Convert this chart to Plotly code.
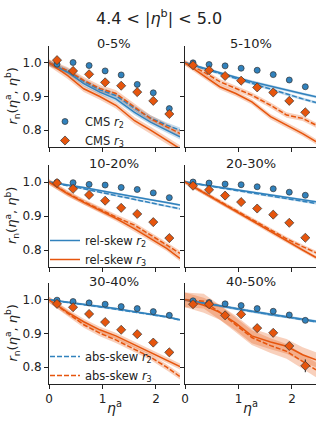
import plotly.graph_objects as go

# ---------------- data ----------------
centralities = ["0-5%", "5-10%", "10-20%", "20-30%", "30-40%", "40-50%"]
eta_cms = [0.15, 0.45, 0.75, 1.05, 1.35, 1.65, 1.95, 2.25]
eta_model = [0.0, 0.35, 0.65, 0.95, 1.25, 1.6, 1.9, 2.2, 2.45]

cms_r2 = [
    [0.996, 1.001, 0.992, 0.976, 0.964, 0.936, 0.911, 0.864],
    [1.000, 0.995, 0.991, 0.984, 0.978, 0.965, 0.949, 0.929],
    [0.999, 0.998, 0.993, 0.991, 0.984, 0.978, 0.968, 0.954],
    [1.000, 0.997, 0.994, 0.992, 0.986, 0.980, 0.970, 0.961],
    [0.999, 0.995, 0.991, 0.987, 0.980, 0.974, 0.965, 0.954],
    [0.997, 0.992, 0.988, 0.983, 0.974, 0.966, 0.955, 0.939],
]
cms_r2_err = [
    [0.003, 0.002, 0.002, 0.002, 0.003, 0.003, 0.004, 0.008],
    [0.002, 0.002, 0.002, 0.002, 0.002, 0.003, 0.003, 0.004],
    [0.002, 0.002, 0.002, 0.002, 0.002, 0.002, 0.003, 0.003],
    [0.002, 0.002, 0.002, 0.002, 0.002, 0.002, 0.003, 0.003],
    [0.002, 0.002, 0.002, 0.002, 0.002, 0.002, 0.003, 0.003],
    [0.002, 0.002, 0.002, 0.002, 0.002, 0.003, 0.003, 0.004],
]
cms_r3 = [
    [1.008, 0.976, 0.966, 0.942, 0.932, 0.913, 0.887, 0.848],
    [0.993, 0.978, 0.961, 0.947, 0.927, 0.912, 0.887, 0.853],
    [0.997, 0.980, 0.962, 0.945, 0.924, 0.906, 0.882, 0.835],
    [0.989, 0.977, 0.960, 0.941, 0.922, 0.904, 0.880, 0.836],
    [0.988, 0.978, 0.958, 0.934, 0.911, 0.898, 0.873, 0.844],
    [0.987, 0.987, 0.954, 0.957, 0.916, 0.902, 0.863, 0.804],
]
cms_r3_err = [
    [0.004, 0.003, 0.003, 0.003, 0.003, 0.004, 0.005, 0.007],
    [0.003, 0.003, 0.003, 0.003, 0.003, 0.004, 0.005, 0.006],
    [0.003, 0.003, 0.003, 0.003, 0.003, 0.003, 0.004, 0.005],
    [0.003, 0.003, 0.003, 0.003, 0.003, 0.003, 0.004, 0.005],
    [0.003, 0.003, 0.003, 0.003, 0.003, 0.004, 0.005, 0.006],
    [0.004, 0.004, 0.004, 0.004, 0.005, 0.006, 0.010, 0.019],
]

rel_r2 = [
    [1.0, 0.972, 0.938, 0.913, 0.893, 0.853, 0.824, 0.800, 0.780],
    [1.0, 0.985, 0.970, 0.957, 0.944, 0.930, 0.918, 0.908, 0.899],
    [1.0, 0.992, 0.984, 0.975, 0.966, 0.956, 0.948, 0.940, 0.932],
    [1.0, 0.992, 0.985, 0.978, 0.971, 0.963, 0.956, 0.949, 0.942],
    [1.0, 0.993, 0.987, 0.980, 0.974, 0.965, 0.958, 0.950, 0.941],
    [1.0, 0.990, 0.982, 0.974, 0.966, 0.957, 0.950, 0.943, 0.936],
]
abs_r2 = [
    [1.0, 0.976, 0.945, 0.920, 0.903, 0.865, 0.836, 0.815, 0.800],
    [1.0, 0.983, 0.967, 0.953, 0.939, 0.922, 0.906, 0.893, 0.882],
    [1.0, 0.990, 0.980, 0.970, 0.960, 0.948, 0.938, 0.929, 0.921],
    [1.0, 0.991, 0.983, 0.975, 0.967, 0.958, 0.951, 0.944, 0.937],
    [1.0, 0.993, 0.986, 0.979, 0.972, 0.964, 0.957, 0.949, 0.940],
    [1.0, 0.990, 0.981, 0.973, 0.965, 0.956, 0.949, 0.942, 0.935],
]
rel_r3 = [
    [1.0, 0.962, 0.923, 0.900, 0.874, 0.828, 0.800, 0.770, 0.745],
    [1.0, 0.963, 0.929, 0.909, 0.884, 0.840, 0.815, 0.790, 0.766],
    [1.0, 0.965, 0.940, 0.917, 0.893, 0.862, 0.834, 0.805, 0.775],
    [1.0, 0.968, 0.940, 0.913, 0.886, 0.854, 0.826, 0.800, 0.778],
    [1.0, 0.963, 0.935, 0.911, 0.893, 0.867, 0.845, 0.822, 0.802],
    [1.0, 0.984, 0.963, 0.931, 0.893, 0.875, 0.862, 0.837, 0.822],
]
abs_r3 = [
    [1.0, 0.977, 0.948, 0.924, 0.909, 0.868, 0.834, 0.810, 0.790],
    [1.0, 0.973, 0.944, 0.924, 0.904, 0.874, 0.845, 0.835, 0.815],
    [1.0, 0.967, 0.942, 0.919, 0.897, 0.873, 0.845, 0.815, 0.790],
    [1.0, 0.969, 0.942, 0.916, 0.889, 0.859, 0.833, 0.810, 0.792],
    [1.0, 0.960, 0.926, 0.901, 0.881, 0.853, 0.830, 0.800, 0.772],
    [1.0, 0.996, 0.963, 0.926, 0.888, 0.864, 0.847, 0.817, 0.792],
]
band_r2 = [0.008, 0.004, 0.003, 0.003, 0.003, 0.004]
band_r3 = [0.010, 0.008, 0.008, 0.006, 0.009, 0.022]

# ---------------- style ----------------
BLUE = "#3182bd"
ORANGE = "#e6550d"
BLUE_FILL = "rgba(49,130,189,0.28)"
ORANGE_FILL = "rgba(230,85,13,0.28)"
FONT = "DejaVu Sans"
W, H = 318, 424

col_px = [(49, 180), (185, 316)]
row_px = [(46, 147), (165, 267), (283, 384)]

fig = go.Figure()


def ax_name(i, kind):
    return kind if i == 0 else f"{kind}{i+1}"


def band(x, y, hw, fill, xa, ya):
    up = [v + hw for v in y]
    lo = [v - hw for v in y]
    fig.add_trace(go.Scatter(x=list(x) + list(x)[::-1], y=up + lo[::-1],
                             fill="toself", fillcolor=fill, line=dict(width=0),
                             mode="lines", hoverinfo="skip", showlegend=False,
                             xaxis=xa, yaxis=ya))


for i, cent in enumerate(centralities):
    r, c = divmod(i, 2)
    xa = "x" if i == 0 else f"x{i+1}"
    ya = "y" if i == 0 else f"y{i+1}"

    band(eta_model, rel_r2[i], band_r2[i], BLUE_FILL, xa, ya)
    band(eta_model, abs_r2[i], band_r2[i], BLUE_FILL, xa, ya)
    band(eta_model, rel_r3[i], band_r3[i], ORANGE_FILL, xa, ya)
    band(eta_model, abs_r3[i], band_r3[i], ORANGE_FILL, xa, ya)

    fig.add_trace(go.Scatter(x=eta_model, y=rel_r2[i], mode="lines",
                             line=dict(color=BLUE, width=1.5),
                             name="rel-skew <i>r</i><sub>2</sub>",
                             showlegend=(i == 2), legend="legend2",
                             xaxis=xa, yaxis=ya))
    fig.add_trace(go.Scatter(x=eta_model, y=rel_r3[i], mode="lines",
                             line=dict(color=ORANGE, width=1.5),
                             name="rel-skew <i>r</i><sub>3</sub>",
                             showlegend=(i == 2), legend="legend2",
                             xaxis=xa, yaxis=ya))
    fig.add_trace(go.Scatter(x=eta_model, y=abs_r2[i], mode="lines",
                             line=dict(color=BLUE, width=1.5, dash="5px,2px"),
                             name="abs-skew <i>r</i><sub>2</sub>",
                             showlegend=(i == 4), legend="legend3",
                             xaxis=xa, yaxis=ya))
    fig.add_trace(go.Scatter(x=eta_model, y=abs_r3[i], mode="lines",
                             line=dict(color=ORANGE, width=1.5, dash="5px,2px"),
                             name="abs-skew <i>r</i><sub>3</sub>",
                             showlegend=(i == 4), legend="legend3",
                             xaxis=xa, yaxis=ya))

    fig.add_trace(go.Scatter(x=eta_cms, y=cms_r2[i], mode="markers",
                             marker=dict(color=BLUE, size=6, symbol="circle",
                                         line=dict(color="#333333", width=0.7)),
                             error_y=dict(type="data", array=cms_r2_err[i],
                                          color="#222222", thickness=1, width=0),
                             name="CMS <i>r</i><sub>2</sub>",
                             showlegend=(i == 0), legend="legend",
                             xaxis=xa, yaxis=ya))
    fig.add_trace(go.Scatter(x=eta_cms, y=cms_r3[i], mode="markers",
                             marker=dict(color=ORANGE, size=7, symbol="diamond",
                                         line=dict(color="#333333", width=0.7)),
                             error_y=dict(type="data", array=cms_r3_err[i],
                                          color="#222222", thickness=1, width=0),
                             name="CMS <i>r</i><sub>3</sub>",
                             showlegend=(i == 0), legend="legend",
                             xaxis=xa, yaxis=ya))

    x0, x1 = col_px[c]
    y0, y1 = row_px[r]
    common = dict(showline=True, linecolor="#222222", linewidth=1,
                  ticks="outside", ticklen=4, tickwidth=1, tickcolor="#222222",
                  showgrid=False, zeroline=False, automargin=False,
                  tickfont=dict(family=FONT, size=12, color="#222222"))
    fig.layout[ax_name(i, "xaxis")] = dict(
        domain=[x0 / W, x1 / W], anchor=ya, range=[0, 2.45],
        tickvals=[0, 1, 2], showticklabels=(r == 2), **common)
    fig.layout[ax_name(i, "yaxis")] = dict(
        domain=[1 - y1 / H, 1 - y0 / H], anchor=xa, range=[0.75, 1.05],
        tickvals=[0.8, 0.9, 1.0], ticktext=["0.8", "0.9", "1.0"],
        showticklabels=(c == 0), **common)

    fig.add_annotation(text=cent, xref="paper", yref="paper",
                       x=(x0 + x1) / 2 / W, y=1 - (y0 - 2) / H,
                       xanchor="center", yanchor="middle", showarrow=False,
                       font=dict(family=FONT, size=13, color="#222222"))

# y labels
for r in range(3):
    y0, y1 = row_px[r]
    fig.add_annotation(text="<i>r</i><sub>n</sub>(<i>η</i><sup>a</sup>, <i>η</i><sup>b</sup>)",
                       xref="paper", yref="paper", x=12 / W, y=1 - (y0 + y1) / 2 / H,
                       textangle=-90, showarrow=False, xanchor="center", yanchor="middle",
                       font=dict(family=FONT, size=13, color="#222222"))
# x labels
for c in range(2):
    x0, x1 = col_px[c]
    fig.add_annotation(text="<i>η</i><sup>a</sup>", xref="paper", yref="paper",
                       x=(x0 + x1) / 2 / W, y=1 - 407 / H, showarrow=False,
                       xanchor="center", yanchor="middle",
                       font=dict(family=FONT, size=14, color="#222222"))
# main title
fig.add_annotation(text="4.4 &lt; |<i>η</i><sup>b</sup>| &lt; 5.0", xref="paper", yref="paper",
                   x=159 / W, y=1 - 17 / H, showarrow=False, xanchor="center",
                   yanchor="middle", font=dict(family=FONT, size=16, color="#222222"))

legfont = dict(family=FONT, size=11.5, color="#222222")
fig.update_layout(
    width=W, height=H, margin=dict(l=0, r=0, t=0, b=0),
    plot_bgcolor="white", paper_bgcolor="white",
    font=dict(family=FONT, size=12, color="#222222"),
    legend=dict(x=45 / W, y=1 - 107 / H, xanchor="left", yanchor="top",
                bgcolor="rgba(0,0,0,0)", font=legfont, itemwidth=30),
    legend2=dict(x=45 / W, y=1 - 226 / H, xanchor="left", yanchor="top",
                 bgcolor="rgba(0,0,0,0)", font=legfont, itemwidth=30),
    legend3=dict(x=45 / W, y=1 - 342 / H, xanchor="left", yanchor="top",
                 bgcolor="rgba(0,0,0,0)", font=legfont, itemwidth=30),
)

fig.write_html(
    "out.html",
    config={"displayModeBar": False},
    post_script="document.body.style.margin='0px';"
                "document.documentElement.style.overflow='hidden';"
                "document.body.style.overflow='hidden';",
)
